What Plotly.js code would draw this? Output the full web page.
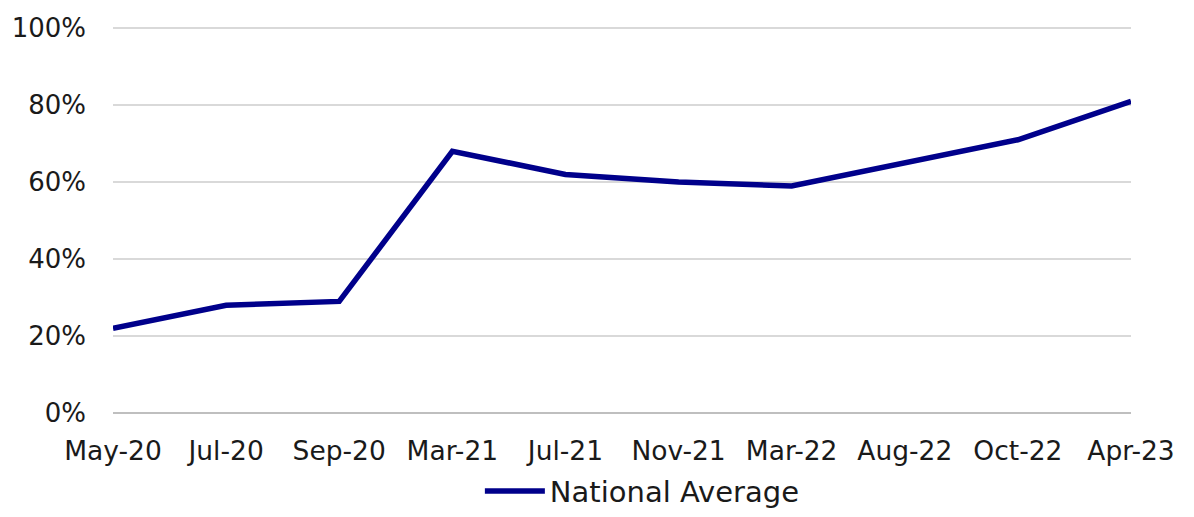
<!DOCTYPE html>
<html>
<head>
<meta charset="utf-8">
<script src="https://cdn.plot.ly/plotly-3.0.1.min.js"></script>
<style>
  html, body { margin: 0; padding: 0; background: #fff; }
  #chart { width: 1194px; height: 517px; }
</style>
</head>
<body>
<div id="chart"></div>
<script>
const categories = ["May-20", "Jul-20", "Sep-20", "Mar-21", "Jul-21", "Nov-21", "Mar-22", "Aug-22", "Oct-22", "Apr-23"];
const nationalAverage = [0.22, 0.28, 0.29, 0.68, 0.62, 0.60, 0.59, 0.65, 0.71, 0.81];
const seriesName = "National Average";
const yTickValues = [0, 0.2, 0.4, 0.6, 0.8, 1.0];

const FONT = "DejaVu Sans, sans-serif";

const trace = {
  x: categories,
  y: nationalAverage,
  type: "scatter",
  mode: "lines",
  name: seriesName,
  line: { color: "#00008B", width: 5.5 },
  hoverinfo: "skip"
};

const layout = {
  width: 1194,
  height: 517,
  margin: { l: 113, r: 63, t: 27, b: 104, autoexpand: false },
  paper_bgcolor: "#ffffff",
  plot_bgcolor: "#ffffff",
  font: { family: FONT, size: 26, color: "#1a1a1a" },
  showlegend: true,
  legend: {
    orientation: "h",
    x: 0.538,
    xref: "container",
    xanchor: "center",
    yref: "container",
    y: 0.05,
    yanchor: "middle",
    font: { family: FONT, size: 29, color: "#1a1a1a" },
    itemwidth: 60
  },
  xaxis: {
    type: "category",
    range: [0, 9],
    showgrid: false,
    zeroline: false,
    showline: false,
    ticks: "",
    automargin: false,
    ticklabelstandoff: 19,
    tickfont: { family: FONT, size: 26.5, color: "#1a1a1a" },
    fixedrange: true
  },
  yaxis: {
    range: [0, 1.003],
    tickvals: yTickValues,
    tickformat: ".0%",
    showgrid: true,
    gridcolor: "#d9d9d9",
    gridwidth: 2,
    zeroline: true,
    zerolinecolor: "#bfbfbf",
    zerolinewidth: 2,
    showline: false,
    ticks: "",
    automargin: false,
    ticklabelstandoff: 26,
    tickfont: { family: FONT, size: 26, color: "#1a1a1a" },
    fixedrange: true
  }
};

Plotly.newPlot("chart", [trace], layout, { displayModeBar: false, staticPlot: true });
</script>
</body>
</html>
